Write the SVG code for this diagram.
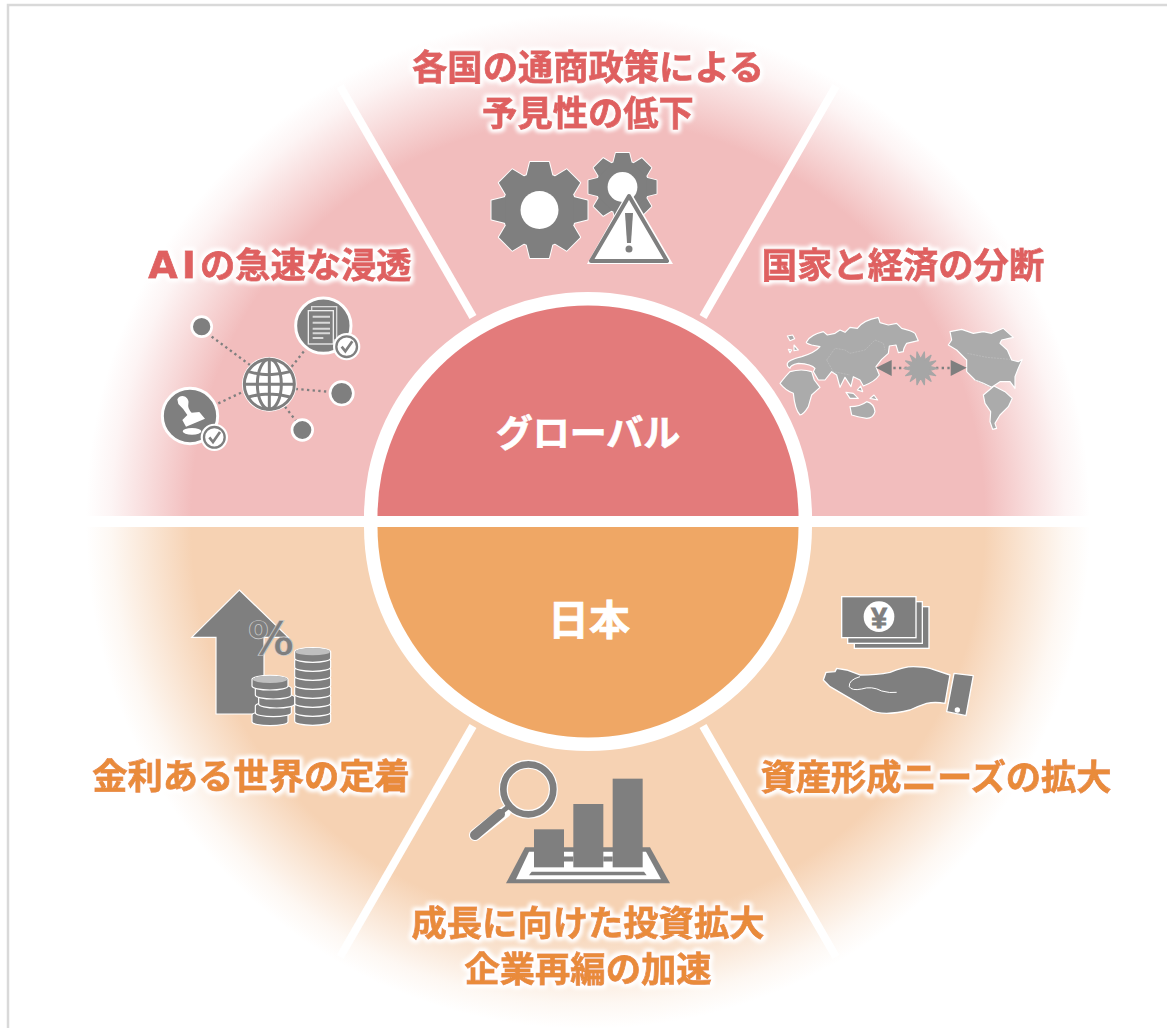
<svg xmlns="http://www.w3.org/2000/svg" xmlns:xlink="http://www.w3.org/1999/xlink" width="1167" height="1028" viewBox="0 0 1167 1028">
<style>
text{font-family:"Noto Sans CJK JP","Noto Sans",sans-serif;font-weight:700;text-anchor:middle}
.lr{font-size:35.3px;fill:#DF6060;stroke:#DF6060;stroke-width:.8;filter:url(#glow)}
.lo{font-size:35.3px;fill:#E98B3A;stroke:#E98B3A;stroke-width:.8;filter:url(#glow)}
.c{fill:#fff;stroke:#fff;stroke-width:.7}
.g{fill:#7F7F7F}
.ws{stroke:#fff;stroke-linejoin:round}
.dot{fill:none;stroke:#7F7F7F;stroke-width:7;stroke-dasharray:7 10}
.sep{stroke:#fff;stroke-width:8;fill:none}
.map{fill:#ABABAB;stroke:#fff;stroke-width:3.5;stroke-linejoin:round}
.bd{fill:none;stroke:#C6C6C6;stroke-width:1.5;stroke-dasharray:6 3}
</style>
<defs>
<radialGradient id="gr" gradientUnits="userSpaceOnUse" cx="588" cy="516" r="502"><stop offset="0" stop-color="#F2BDBD"/><stop offset=".79" stop-color="#F2BDBD"/><stop offset=".88" stop-color="#F2BDBD" stop-opacity=".52"/><stop offset=".95" stop-color="#F2BDBD" stop-opacity=".16"/><stop offset="1" stop-color="#F2BDBD" stop-opacity="0"/></radialGradient>
<radialGradient id="go" gradientUnits="userSpaceOnUse" cx="588" cy="527" r="502"><stop offset="0" stop-color="#F6D2B3"/><stop offset=".79" stop-color="#F6D2B3"/><stop offset=".88" stop-color="#F6D2B3" stop-opacity=".52"/><stop offset=".95" stop-color="#F6D2B3" stop-opacity=".16"/><stop offset="1" stop-color="#F6D2B3" stop-opacity="0"/></radialGradient>
<filter id="glow" x="-15%" y="-40%" width="130%" height="180%"><feMorphology in="SourceAlpha" operator="dilate" radius="1.5" result="d"/><feGaussianBlur in="d" stdDeviation="2.2" result="b"/><feFlood flood-color="#fff"/><feComposite in2="b" operator="in" result="w"/><feMerge><feMergeNode in="w"/><feMergeNode in="w"/><feMergeNode in="SourceGraphic"/></feMerge></filter>
<g id="tooth-set">
<circle r="37"/>
<polygon id="t" points="-13,-34 -9.5,-48 9.5,-48 13,-34"/>
<use xlink:href="#t" transform="rotate(45)"/><use xlink:href="#t" transform="rotate(90)"/><use xlink:href="#t" transform="rotate(135)"/><use xlink:href="#t" transform="rotate(180)"/><use xlink:href="#t" transform="rotate(225)"/><use xlink:href="#t" transform="rotate(270)"/><use xlink:href="#t" transform="rotate(315)"/>
</g>
<g id="badge"><circle r="41" fill="#fff"/><circle r="31" fill="#fff" stroke="#7F7F7F" stroke-width="7"/><path d="M-15,0 L-4,14 L17,-16" fill="none" stroke="#7F7F7F" stroke-width="8"/></g>
<path id="coin" d="M-54,0 v20 a54,12 0 0 0 108,0 v-20 a54,12 0 0 0 -108,0z" fill="#7F7F7F" stroke="#fff" stroke-width="3.5"/>
<ellipse id="cointop" rx="52" ry="11" fill="#BFBFBF"/>
</defs>

<rect id="frame" x="8" y="5" width="1300" height="1300" fill="#fff" stroke="#D9D9D9" stroke-width="2.5"/>

<g id="sectors">
<path d="M86,516 A502,502 0 0 1 1090,516 Z" fill="url(#gr)"/>
<path d="M86,527 A502,502 0 0 0 1090,527 Z" fill="url(#go)"/>
</g>

<g id="connectors">
<path class="sep" d="M80,521.5 H1096" style="stroke-width:10"/>
<path class="sep" d="M473,317 L340,86"/>
<path class="sep" d="M703,317 L836,86"/>
<path class="sep" d="M473,726 L340,957"/>
<path class="sep" d="M703,726 L836,957"/>
</g>

<g id="node-global">
<path d="M364,516 A224,224 0 0 1 812,516 Z" fill="#fff"/>
<path d="M377.500,516 A210.500,210.500 0 0 1 798.500,516 Z" fill="#E37B7B"/>
<text class="c" x="588" y="447" font-size="37">グローバル</text>
</g>
<g id="node-japan">
<path d="M364,527 A224,224 0 0 0 812,527 Z" fill="#fff"/>
<path d="M377.500,527 A210.500,210.500 0 0 0 798.500,527 Z" fill="#EFA765"/>
<text class="c" x="589" y="635" font-size="41">日本</text>
</g>

<g id="node-trade">
<text class="lr" x="588" y="80">各国の通商政策による</text>
<text class="lr" x="588" y="126">予見性の低下</text>
<g transform="translate(539.500,210)"><use xlink:href="#tooth-set" fill="#fff" stroke="#fff" stroke-width="2" stroke-linejoin="round"/><use xlink:href="#tooth-set" fill="#7F7F7F"/><circle r="19" fill="#fff"/></g>
<g transform="translate(622.500,187) scale(.71)"><use xlink:href="#tooth-set" fill="#fff" stroke="#fff" stroke-width="2.500" stroke-linejoin="round"/><use xlink:href="#tooth-set" fill="#7F7F7F"/><circle r="21" fill="#fff"/></g>
<polygon points="629,189 673,264 587,264" fill="#fff"/>
<polygon points="629,196 667,261 591,261" fill="#fff" stroke="#7F7F7F" stroke-width="4" stroke-linejoin="round"/>
<polygon points="625,213 633,213 631,243 627,243" fill="#7F7F7F"/>
<circle cx="629" cy="249" r="3.500" fill="#7F7F7F"/>
</g>

<g id="node-divide">
<text class="lr" x="903" y="278">国家と経済の分断</text>
<g transform="translate(770,300) scale(.33333)">
<path class="map" d="M52,190 Q55,180 95,170 Q135,158 150,140 L125,135 Q105,130 110,125 Q120,105 160,95 L172,105 L195,100 L210,90 L225,97 L240,82 L262,85 Q280,60 325,52 L330,68 L355,75 L380,70 L395,85 Q425,92 435,100 L445,122 L410,130 Q400,145 400,155 L385,158 L378,135 L358,138 L355,160 L335,178 L318,200 L328,225 Q315,245 280,258 L270,240 L250,230 L243,260 L225,232 L210,262 L200,225 L185,215 L165,240 L145,240 L130,215 L135,205 Q125,192 85,190 Q60,195 60,205 Q50,200 52,190Z"/>
<path class="map" d="M30,250 Q50,225 60,215 Q95,205 125,215 L133,240 L150,262 L125,285 L115,320 Q100,345 90,345 Q75,330 70,280 Q45,270 30,250Z"/>
<path class="map" d="M52,108L68,105L74,116L60,122Z"/>
<path class="map" d="M55,148L65,150L60,158Z"/>
<path class="map" d="M72,135L85,150L72,152Z"/>
<path class="map" d="M228,277L250,280L265,295L240,295Z"/>
<path class="map" d="M262,270L272,258L278,275Z"/>
<path class="map" d="M300,295L312,285L323,300Z"/>
<path class="map" d="M240,320 Q270,320 290,305 Q312,310 315,335 Q310,355 290,355 Q260,350 245,345Z"/>
<path class="map" d="M640,285L672,258L705,275L727,295L715,320L690,345L675,370L680,385L668,388L660,365L662,335L645,310Z"/>
<path class="map" d="M540,95L575,88L610,100L640,95L665,100L700,85L730,112L695,120L690,130L712,150L725,180L745,185L757,178L745,205L735,230L735,265L720,245L690,245L665,262L640,250L615,240L590,215L590,180L560,150L535,135L545,120Z"/>
<path class="bd" d="M170,180L195,145L225,150L240,160L285,150L315,120L340,130L345,150M170,180L190,215L240,225M592,160L650,172L720,178M615,240L660,262"/>
<polygon class="g" points="318,203 365,180 365,228"/>
<polygon class="g" points="590,203 542,180 542,228"/>
<path class="dot" d="M370,204H412M498,204H540"/>
<polygon fill="#A6A6A6" stroke="#A6A6A6" stroke-width="4" stroke-linejoin="round" points="502,205 479,211 497,227 474,222 483,244 464,230 463,254 452,233 441,254 440,230 421,244 430,222 407,227 425,211 402,205 425,199 407,183 430,188 421,166 440,180 441,156 452,177 463,156 464,180 483,166 474,188 497,183 479,199"/>
</g>
</g>

<g id="node-ai">
<text class="lr" x="280" y="278"><tspan style="font-family:'DejaVu Sans',sans-serif;letter-spacing:4px" font-size="38">AI</tspan>の急速な浸透</text>
<g transform="translate(150,290) scale(.33333)">
<path class="dot" d="M185,140L300,225M425,230L465,180M437,297L535,305M405,350L440,395M205,340L280,305"/>
<g fill="#7F7F7F" stroke="#fff" stroke-width="8"><circle cx="155" cy="110" r="30"/><circle cx="575" cy="310" r="35"/><circle cx="457" cy="420" r="31"/></g>
<circle cx="358" cy="283" r="82" fill="#fff"/>
<g transform="translate(358,283)" fill="none" stroke="#7F7F7F" stroke-width="9"><circle r="75"/><ellipse rx="36" ry="75"/><path d="M0,-75V75M-75,0H75M-62,-38Q0,-20 62,-38M-62,38Q0,20 62,38"/></g>
<circle cx="520" cy="107" r="83" fill="#7F7F7F" stroke="#fff" stroke-width="9"/>
<rect x="485" y="50" width="75" height="100" fill="none" stroke="#D9D9D9" stroke-width="4"/>
<rect x="475" y="62" width="75" height="100" fill="#7F7F7F" stroke="#EEE" stroke-width="4"/>
<path d="M488,80H540M488,98H540M488,116H540M488,130H540M488,144H520" fill="none" stroke="#D9D9D9" stroke-width="6"/>
<use xlink:href="#badge" x="590" y="170"/>
<circle cx="120" cy="378" r="83" fill="#7F7F7F" stroke="#fff" stroke-width="9"/>
<path d="M82,328 Q90,314 106,320 Q118,328 115,342 Q112,355 125,368 L148,366 L165,386 L108,410 L97,390 L112,375 Q100,355 85,342Z" fill="#fff"/>
<ellipse cx="126" cy="424" rx="28" ry="10" fill="#fff"/>
<use xlink:href="#badge" x="193" y="442"/>
</g>
</g>

<g id="node-rates">
<text class="lo" x="251" y="789">金利ある世界の定着</text>
<g transform="translate(180,580) scale(.33333)">
<polygon points="178,30 325,172 252,172 252,402 108,402 108,172 35,172" fill="#7F7F7F" stroke="#fff" stroke-width="3.500"/>
<use xlink:href="#coin" x="398" y="404"/><use xlink:href="#coin" x="398" y="377"/><use xlink:href="#coin" x="398" y="350"/><use xlink:href="#coin" x="398" y="323"/><use xlink:href="#coin" x="398" y="296"/><use xlink:href="#coin" x="398" y="269"/><use xlink:href="#coin" x="398" y="242"/><use xlink:href="#coin" x="398" y="215"/>
<use xlink:href="#cointop" x="398" y="215"/>
<use xlink:href="#coin" x="270" y="405"/><use xlink:href="#coin" x="280" y="378"/><use xlink:href="#coin" x="290" y="352"/><use xlink:href="#coin" x="280" y="325"/><use xlink:href="#coin" x="270" y="298"/>
<use xlink:href="#cointop" x="270" y="298"/>
</g>
<text x="271" y="655" font-size="46" fill="#7F7F7F" stroke="#CFCFCF" stroke-width=".7" style="font-family:'DejaVu Sans',sans-serif">%</text>
</g>

<g id="node-assets">
<text class="lo" x="936" y="790">資産形成ニーズの拡大</text>
<g transform="translate(810,585) scale(.33333)">
<g fill="#7F7F7F" stroke="#fff" stroke-width="4"><rect x="133" y="65" width="224" height="125"/><rect x="113" y="50" width="224" height="125"/><rect x="95" y="35" width="223" height="123"/></g>
<circle cx="207" cy="95" r="46" fill="#fff"/>
<path class="ws" stroke-width="4" fill="#7F7F7F" d="M40,285 L48,262 L75,260 L80,250 L110,255 L150,270 Q200,270 240,262 Q280,245 310,245 Q340,245 360,250 L420,270 L405,355 Q375,350 350,355 Q320,365 300,375 Q260,385 230,385 Q200,385 180,375 L120,340 L60,305Z"/>
<path d="M150,275 Q115,285 118,305 Q125,318 155,312 Q185,302 215,318 Q240,325 260,322" fill="none" stroke="#fff" stroke-width="3"/>
<polygon class="ws" stroke-width="4" fill="#7F7F7F" points="432,265 490,272 468,392 410,380"/>
<circle cx="442" cy="375" r="8" fill="#fff"/>
</g>
<text x="879" y="628" font-size="29" fill="#7F7F7F" stroke="#7F7F7F" stroke-width=".8" style="font-family:'Liberation Sans',sans-serif">¥</text>
</g>

<g id="node-invest">
<text class="lo" x="588" y="936">成長に向けた投資拡大</text>
<text class="lo" x="588" y="982">企業再編の加速</text>
<g transform="translate(460,750) scale(.33333)">
<path d="M135,185L45,255" stroke="#fff" stroke-width="36" stroke-linecap="round" fill="none"/>
<circle cx="205" cy="118" r="75" fill="none" stroke="#fff" stroke-width="27"/>
<path d="M145,170L120,190" stroke="#7F7F7F" stroke-width="14" fill="none"/>
<path d="M120,192L45,255" stroke="#7F7F7F" stroke-width="30" stroke-linecap="round" fill="none"/>
<circle cx="205" cy="118" r="75" fill="none" stroke="#7F7F7F" stroke-width="20"/>
<polygon points="195,292 570,292 630,400 138,400" fill="#7F7F7F"/>
<polygon points="207,305 558,305 603,388 168,388" fill="#fff"/>
<path d="M312,327H340M430,327H458" stroke="#7F7F7F" stroke-width="15" fill="none"/>
<polygon points="215,365 552,365 560,376 207,376" fill="#7F7F7F"/>
<rect x="222" y="238" width="90" height="114" fill="#7F7F7F"/>
<rect x="340" y="162" width="90" height="190" fill="#7F7F7F"/>
<rect x="458" y="86" width="90" height="266" fill="#7F7F7F"/>
</g>
</g>
</svg>
